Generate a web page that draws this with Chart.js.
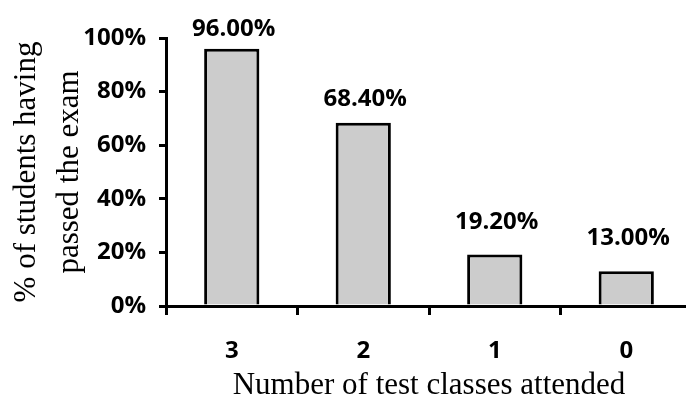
<!DOCTYPE html>
<html>
<head>
<meta charset="utf-8">
<script src="https://cdn.jsdelivr.net/npm/chart.js@4"></script>
<style>
  html, body { margin: 0; padding: 0; background: #fff; overflow: hidden; }
  #wrap { width: 686px; height: 401px; overflow: hidden; }
</style>
</head>
<body>
<div id="wrap"><canvas id="chart" width="694" height="401"></canvas></div>
<script>
const xlabels = ['3', '2', '1', '0'];
const ypassed = [0.96, 0.684, 0.192, 0.13];
const ytitle = ['% of students having', 'passed the exam'];
const xtitle = 'Number of test classes attended';

const boldFont = 'Open Sans';
const serifFont = 'Liberation Serif';
// space between bar top and label baseline (the top labels sit lower, squeezed under the top)
const labelGap = [13, 17, 26, 26];

// writes the value above each bar, like 96.00%
const barValues = {
  id: 'barValues',
  afterDatasetsDraw(chart) {
    const ctx = chart.ctx;
    const meta = chart.getDatasetMeta(0);
    ctx.save();
    ctx.font = 'bold 24px "' + boldFont + '"';
    ctx.fillStyle = '#000';
    ctx.textAlign = 'center';
    ctx.textBaseline = 'alphabetic';
    meta.data.forEach((bar, i) => {
      ctx.fillText((ypassed[i] * 100).toFixed(2) + '%', bar.x + 2, bar.y - labelGap[i]);
    });
    ctx.restore();
  }
};

const ctx = document.getElementById('chart').getContext('2d');
const myChart = new Chart(ctx, {
  type: 'bar',
  data: {
    labels: xlabels,
    datasets: [{
      data: ypassed,
      backgroundColor: '#cccccc',
      borderColor: '#000',
      borderWidth: 3,
      barPercentage: 0.42,
      categoryPercentage: 1
    }]
  },
  options: {
    responsive: false,
    animation: false,
    layout: { padding: { top: 38, right: 2, left: 0, bottom: 0 } },
    plugins: { legend: { display: false }, tooltip: { enabled: false } },
    scales: {
      x: {
        afterFit: s => { s.height = 95; },
        grid: { display: true, offset: true, drawOnChartArea: false, drawTicks: true, tickLength: 9, color: '#000', lineWidth: 3 },
        border: { color: '#000', width: 3 },
        ticks: { color: '#000', padding: 22, font: { family: boldFont, weight: 'bold', size: 24 } },
        title: { display: true, text: xtitle, color: '#000', padding: { top: 0, bottom: 0 }, font: { family: serifFont, size: 31, lineHeight: 1 } }
      },
      y: {
        min: 0,
        max: 1,
        afterFit: s => { s.width = 166; },
        grid: { display: true, drawOnChartArea: false, drawTicks: true, tickLength: 7, color: '#000', lineWidth: 3 },
        border: { color: '#000', width: 3 },
        ticks: {
          stepSize: 0.2,
          color: '#000',
          padding: 13,
          font: { family: boldFont, weight: 'bold', size: 24 },
          callback: v => Math.round(v * 100) + '%'
        },
        title: { display: true, text: ytitle, color: '#000', padding: { top: 5, bottom: 0 }, font: { family: serifFont, size: 31, lineHeight: 1.39 } }
      }
    }
  },
  plugins: [barValues]
});
</script>
</body>
</html>
